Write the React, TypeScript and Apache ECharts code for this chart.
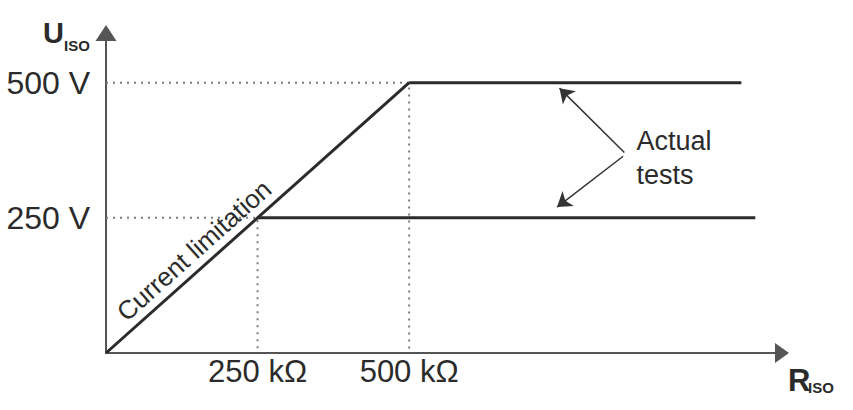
import { useRef, useEffect } from 'react'
import * as echarts from 'echarts'

const xTicks = [250, 500]
const xTickLabels = ['250 kΩ', '500 kΩ']
const yTicks = [250, 500]
const yTickLabels = ['250 V', '500 V']
const xMax = 1115
const yMax = 592

const limitLine = [
  [0, 0],
  [500, 500],
]
const test500 = [
  [500, 500],
  [1048, 500],
]
const test250 = [
  [250, 250],
  [1071, 250],
]
const guide500 = [
  [0, 500],
  [500, 500],
  [500, 0],
]
const guide250 = [
  [0, 250],
  [250, 250],
  [250, 0],
]

const limitLabel = 'Current limitation'
const limitLabelSpan = [
  [0, 0],
  [330, 330],
]
const noteText = 'Actual\ntests'
const notePos = [875, 360]
const noteArrows = [
  [
    [855, 371],
    [748, 490],
  ],
  [
    [853, 364],
    [744, 270],
  ],
]

const SANS = '"Liberation Sans", Arial, sans-serif'
const INK = '#2b2b2b'

export default function App() {
  const containerRef = useRef<HTMLDivElement>(null)

  useEffect(() => {
    const el = containerRef.current
    if (!el) return
    const chart = echarts.init(el, null, { renderer: 'svg' })

    const guideStyle = { color: '#7d7d7d', width: 2, type: [2, 5] as number[], cap: 'butt' as const }
    const dataStyle = { color: INK, width: 3 }

    const option: echarts.EChartsOption = {
      backgroundColor: '#fff',
      animation: false,
      grid: { left: 106, right: 71, top: 33, bottom: 57, containLabel: false, outerBoundsMode: 'none' } as any,
      xAxis: {
        type: 'value',
        min: 0,
        max: xMax,
        interval: 250,
        axisLine: {
          lineStyle: { color: '#555', width: 2 },
          symbol: ['none', 'triangle'],
          symbolSize: [20, 14],
        },
        axisTick: { show: false },
        splitLine: { show: false },
        axisLabel: {
          margin: 3,
          fontSize: 31,
          color: INK,
          fontFamily: SANS,
          showMaxLabel: false,
          formatter: (v: number) => {
            const i = xTicks.indexOf(v)
            return i >= 0 ? xTickLabels[i] : ''
          },
        },
      },
      yAxis: {
        type: 'value',
        min: 0,
        max: yMax,
        interval: 250,
        axisLine: {
          show: true,
          lineStyle: { color: '#555', width: 2 },
          symbol: ['none', 'triangle'],
          symbolSize: [21, 16],
        },
        axisTick: { show: false },
        splitLine: { show: false },
        axisLabel: {
          margin: 16,
          fontSize: 32,
          color: INK,
          fontFamily: SANS,
          showMaxLabel: false,
          formatter: (v: number) => {
            const i = yTicks.indexOf(v)
            return i >= 0 ? yTickLabels[i] : ''
          },
        },
      },
      series: [
        {
          type: 'line',
          data: guide500,
          symbol: 'none',
          lineStyle: guideStyle,
          silent: true,
        },
        {
          type: 'line',
          data: guide250,
          symbol: 'none',
          lineStyle: guideStyle,
          silent: true,
        },
        {
          type: 'line',
          data: limitLine,
          symbol: 'none',
          lineStyle: dataStyle,
          silent: true,
          markLine: {
            silent: true,
            symbol: 'none',
            lineStyle: { color: 'transparent', width: 0 },
            label: {
              show: true,
              position: 'insideMiddleTop',
              distance: 5,
              formatter: limitLabel,
              fontSize: 26,
              color: INK,
              fontFamily: SANS,
            },
            data: [[{ coord: limitLabelSpan[0] }, { coord: limitLabelSpan[1] }]] as any,
          },
        },
        {
          type: 'line',
          data: test500,
          symbol: 'none',
          lineStyle: dataStyle,
          silent: true,
        },
        {
          type: 'line',
          data: test250,
          symbol: 'none',
          lineStyle: dataStyle,
          silent: true,
        },
        {
          type: 'lines',
          coordinateSystem: 'cartesian2d',
          symbol: ['none', 'arrow'],
          symbolSize: 14,
          lineStyle: { color: '#333', width: 1.5, opacity: 1 },
          silent: true,
          data: noteArrows.map((c) => ({ coords: c })),
        } as any,
        {
          type: 'scatter',
          symbolSize: 0,
          silent: true,
          data: [notePos],
          label: {
            show: true,
            position: 'inside',
            align: 'left',
            verticalAlign: 'middle',
            formatter: noteText,
            fontSize: 27,
            lineHeight: 34,
            color: INK,
            opacity: 1,
            fontFamily: SANS,
          },
        },
      ],
      graphic: [
        {
          type: 'text',
          x: 43,
          y: 33,
          style: { text: 'U', fontSize: 29, fontWeight: 'bold', fontFamily: SANS, fill: INK, verticalAlign: 'middle' },
        },
        {
          type: 'text',
          x: 64,
          y: 45,
          style: { text: 'ISO', fontSize: 15, fontWeight: 'bold', fontFamily: SANS, fill: INK, verticalAlign: 'middle' },
        },
        {
          type: 'text',
          x: 788,
          y: 380,
          style: { text: 'R', fontSize: 31, fontWeight: 'bold', fontFamily: SANS, fill: INK, verticalAlign: 'middle' },
        },
        {
          type: 'text',
          x: 808,
          y: 387,
          style: { text: 'ISO', fontSize: 15, fontWeight: 'bold', fontFamily: SANS, fill: INK, verticalAlign: 'middle' },
        },
      ],
    }

    chart.setOption(option)
    return () => {
      chart.dispose()
    }
  }, [])

  return (
    <div
      ref={containerRef}
      style={{ position: 'fixed', left: 0, top: 0, width: 853, height: 410, background: '#fff' }}
    />
  )
}
